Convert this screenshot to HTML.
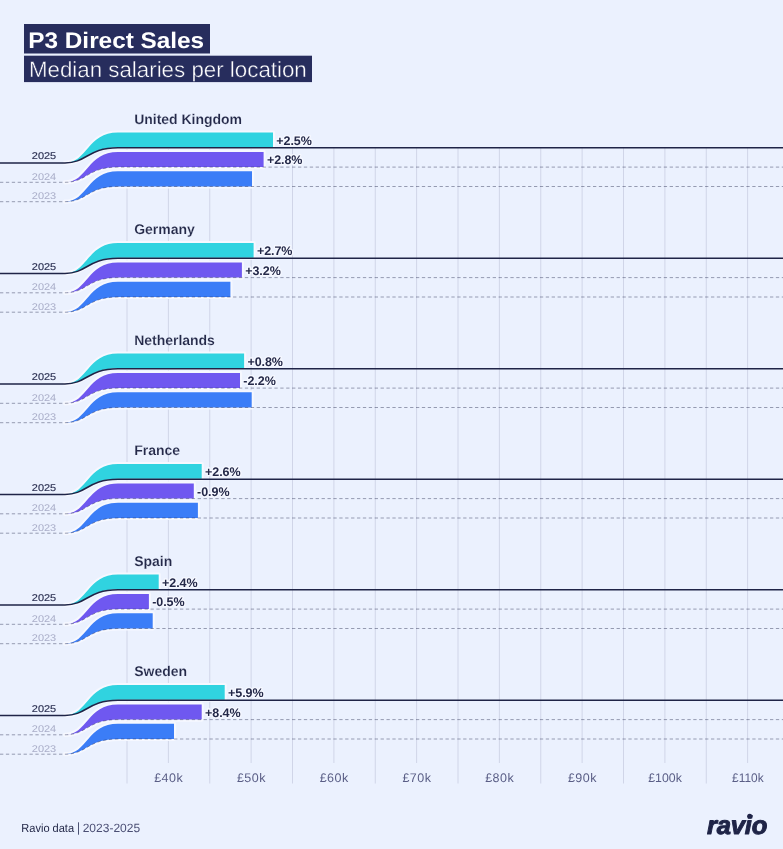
<!DOCTYPE html>
<html><head><meta charset="utf-8"><title>P3 Direct Sales</title>
<style>
html,body{margin:0;padding:0;background:#ebf1fe;}
body{width:783px;height:849px;overflow:hidden;font-family:"Liberation Sans",sans-serif;}
svg{display:block;will-change:transform;}
</style></head><body>
<svg width="783" height="849" viewBox="0 0 783 849" font-family="Liberation Sans, sans-serif" text-rendering="geometricPrecision">
<rect width="783" height="849" fill="#ebf1fe"/>
<rect x="24" y="24" width="186" height="29.5" fill="#272d5d"/>
<rect x="24" y="55.7" width="288" height="26.4" fill="#272d5d"/>
<text x="28.3" y="47.5" font-size="22.5" font-weight="700" fill="#ffffff" textLength="175.8" lengthAdjust="spacingAndGlyphs">P3 Direct Sales</text>
<text x="28.9" y="76.7" font-size="22" fill="#ffffff" stroke="#272d5d" stroke-width="0.4" textLength="277.9" lengthAdjust="spacingAndGlyphs">Median salaries per location</text>
<line x1="127.00" y1="147.7" x2="127.00" y2="783.5" stroke="#d0d5e8" stroke-width="1"/>
<line x1="168.38" y1="147.7" x2="168.38" y2="763" stroke="#d0d5e8" stroke-width="1"/>
<line x1="209.75" y1="147.7" x2="209.75" y2="783.5" stroke="#d0d5e8" stroke-width="1"/>
<line x1="251.12" y1="147.7" x2="251.12" y2="763" stroke="#d0d5e8" stroke-width="1"/>
<line x1="292.50" y1="147.7" x2="292.50" y2="783.5" stroke="#d0d5e8" stroke-width="1"/>
<line x1="333.88" y1="147.7" x2="333.88" y2="763" stroke="#d0d5e8" stroke-width="1"/>
<line x1="375.25" y1="147.7" x2="375.25" y2="783.5" stroke="#d0d5e8" stroke-width="1"/>
<line x1="416.62" y1="147.7" x2="416.62" y2="763" stroke="#d0d5e8" stroke-width="1"/>
<line x1="458.00" y1="147.7" x2="458.00" y2="783.5" stroke="#d0d5e8" stroke-width="1"/>
<line x1="499.38" y1="147.7" x2="499.38" y2="763" stroke="#d0d5e8" stroke-width="1"/>
<line x1="540.75" y1="147.7" x2="540.75" y2="783.5" stroke="#d0d5e8" stroke-width="1"/>
<line x1="582.12" y1="147.7" x2="582.12" y2="763" stroke="#d0d5e8" stroke-width="1"/>
<line x1="623.50" y1="147.7" x2="623.50" y2="783.5" stroke="#d0d5e8" stroke-width="1"/>
<line x1="664.88" y1="147.7" x2="664.88" y2="763" stroke="#d0d5e8" stroke-width="1"/>
<line x1="706.25" y1="147.7" x2="706.25" y2="783.5" stroke="#d0d5e8" stroke-width="1"/>
<line x1="747.62" y1="147.7" x2="747.62" y2="763" stroke="#d0d5e8" stroke-width="1"/>
<text x="168.68" y="782.3" font-size="12.5" fill="#5a5e86" text-anchor="middle" letter-spacing="0.45">£40k</text>
<text x="251.43" y="782.3" font-size="12.5" fill="#5a5e86" text-anchor="middle" letter-spacing="0.45">£50k</text>
<text x="334.18" y="782.3" font-size="12.5" fill="#5a5e86" text-anchor="middle" letter-spacing="0.45">£60k</text>
<text x="416.93" y="782.3" font-size="12.5" fill="#5a5e86" text-anchor="middle" letter-spacing="0.45">£70k</text>
<text x="499.68" y="782.3" font-size="12.5" fill="#5a5e86" text-anchor="middle" letter-spacing="0.45">£80k</text>
<text x="582.42" y="782.3" font-size="12.5" fill="#5a5e86" text-anchor="middle" letter-spacing="0.45">£90k</text>
<text x="648.28" y="782.3" font-size="12.5" fill="#5a5e86" textLength="33.6" lengthAdjust="spacingAndGlyphs">£100k</text>
<text x="732.08" y="782.3" font-size="12.5" fill="#5a5e86" textLength="31.5" lengthAdjust="spacingAndGlyphs">£110k</text>
<text x="134.2" y="123.90" font-size="14" font-weight="700" fill="#242949" stroke="#ebf1fe" stroke-width="0.15" letter-spacing="-0.02">United Kingdom</text>
<path d="M65.0,162.90 C87.26,162.90 87.26,132.50 118.00,132.50 L273.00,132.50 L273.00,147.20 L118.0,147.20 C87.26,147.20 87.26,162.90 65.00,162.90 Z" fill="#30d3e0" stroke="#f6f8ff" stroke-width="4.2" stroke-linejoin="round" paint-order="stroke"/>
<path d="M65.0,182.30 C87.26,182.30 87.26,151.90 118.00,151.90 L263.60,151.90 L263.60,167.10 L118.0,167.10 C87.26,167.10 87.26,182.30 65.00,182.30 Z" fill="#6f58f0" stroke="#f6f8ff" stroke-width="4.2" stroke-linejoin="round" paint-order="stroke"/>
<path d="M65.0,201.70 C87.26,201.70 87.26,171.30 118.00,171.30 L252.00,171.30 L252.00,186.50 L118.0,186.50 C87.26,186.50 87.26,201.70 65.00,201.70 Z" fill="#3b7df7" stroke="#f6f8ff" stroke-width="4.2" stroke-linejoin="round" paint-order="stroke"/>
<path d="M0,162.90 L65.0,162.90 C87.26,162.90 87.26,147.70 118.00,147.70 L783,147.70" fill="none" stroke="#1f2447" stroke-width="1.55"/>
<text x="31.8" y="159.00" font-size="9.8" textLength="24.4" lengthAdjust="spacingAndGlyphs" fill="#1f2447" stroke="#1f2447" stroke-width="0.12">2025</text>
<text x="276.30" y="144.70" font-size="12.5" font-weight="700" fill="#242949" letter-spacing="-0.05" stroke="#f6f8ff" stroke-width="2.6" stroke-linejoin="round" paint-order="stroke">+2.5%</text>
<path d="M0,182.30 L65.0,182.30 C87.26,182.30 87.26,167.10 118.00,167.10 L783,167.10" fill="none" stroke="#1f2447" stroke-opacity="0.47" stroke-width="0.9" stroke-dasharray="3.3 2.6"/>
<text x="31.8" y="179.60" font-size="9.8" textLength="24.4" lengthAdjust="spacingAndGlyphs" fill="#a9adc8">2024</text>
<text x="266.90" y="164.10" font-size="12.5" font-weight="700" fill="#242949" letter-spacing="-0.05" stroke="#f6f8ff" stroke-width="2.6" stroke-linejoin="round" paint-order="stroke">+2.8%</text>
<path d="M0,201.70 L65.0,201.70 C87.26,201.70 87.26,186.50 118.00,186.50 L783,186.50" fill="none" stroke="#1f2447" stroke-opacity="0.47" stroke-width="0.9" stroke-dasharray="3.3 2.6"/>
<text x="31.8" y="199.00" font-size="9.8" textLength="24.4" lengthAdjust="spacingAndGlyphs" fill="#a9adc8">2023</text>
<text x="134.2" y="234.40" font-size="14" font-weight="700" fill="#242949" stroke="#ebf1fe" stroke-width="0.15" letter-spacing="-0.02">Germany</text>
<path d="M65.0,273.40 C87.26,273.40 87.26,243.00 118.00,243.00 L253.60,243.00 L253.60,257.70 L118.0,257.70 C87.26,257.70 87.26,273.40 65.00,273.40 Z" fill="#30d3e0" stroke="#f6f8ff" stroke-width="4.2" stroke-linejoin="round" paint-order="stroke"/>
<path d="M65.0,292.80 C87.26,292.80 87.26,262.40 118.00,262.40 L241.90,262.40 L241.90,277.60 L118.0,277.60 C87.26,277.60 87.26,292.80 65.00,292.80 Z" fill="#6f58f0" stroke="#f6f8ff" stroke-width="4.2" stroke-linejoin="round" paint-order="stroke"/>
<path d="M65.0,312.20 C87.26,312.20 87.26,281.80 118.00,281.80 L230.40,281.80 L230.40,297.00 L118.0,297.00 C87.26,297.00 87.26,312.20 65.00,312.20 Z" fill="#3b7df7" stroke="#f6f8ff" stroke-width="4.2" stroke-linejoin="round" paint-order="stroke"/>
<path d="M0,273.40 L65.0,273.40 C87.26,273.40 87.26,258.20 118.00,258.20 L783,258.20" fill="none" stroke="#1f2447" stroke-width="1.55"/>
<text x="31.8" y="269.50" font-size="9.8" textLength="24.4" lengthAdjust="spacingAndGlyphs" fill="#1f2447" stroke="#1f2447" stroke-width="0.12">2025</text>
<text x="256.90" y="255.20" font-size="12.5" font-weight="700" fill="#242949" letter-spacing="-0.05" stroke="#f6f8ff" stroke-width="2.6" stroke-linejoin="round" paint-order="stroke">+2.7%</text>
<path d="M0,292.80 L65.0,292.80 C87.26,292.80 87.26,277.60 118.00,277.60 L783,277.60" fill="none" stroke="#1f2447" stroke-opacity="0.47" stroke-width="0.9" stroke-dasharray="3.3 2.6"/>
<text x="31.8" y="290.10" font-size="9.8" textLength="24.4" lengthAdjust="spacingAndGlyphs" fill="#a9adc8">2024</text>
<text x="245.20" y="274.60" font-size="12.5" font-weight="700" fill="#242949" letter-spacing="-0.05" stroke="#f6f8ff" stroke-width="2.6" stroke-linejoin="round" paint-order="stroke">+3.2%</text>
<path d="M0,312.20 L65.0,312.20 C87.26,312.20 87.26,297.00 118.00,297.00 L783,297.00" fill="none" stroke="#1f2447" stroke-opacity="0.47" stroke-width="0.9" stroke-dasharray="3.3 2.6"/>
<text x="31.8" y="309.50" font-size="9.8" textLength="24.4" lengthAdjust="spacingAndGlyphs" fill="#a9adc8">2023</text>
<text x="134.2" y="344.90" font-size="14" font-weight="700" fill="#242949" stroke="#ebf1fe" stroke-width="0.15" letter-spacing="-0.02">Netherlands</text>
<path d="M65.0,383.90 C87.26,383.90 87.26,353.50 118.00,353.50 L244.10,353.50 L244.10,368.20 L118.0,368.20 C87.26,368.20 87.26,383.90 65.00,383.90 Z" fill="#30d3e0" stroke="#f6f8ff" stroke-width="4.2" stroke-linejoin="round" paint-order="stroke"/>
<path d="M65.0,403.30 C87.26,403.30 87.26,372.90 118.00,372.90 L240.00,372.90 L240.00,388.10 L118.0,388.10 C87.26,388.10 87.26,403.30 65.00,403.30 Z" fill="#6f58f0" stroke="#f6f8ff" stroke-width="4.2" stroke-linejoin="round" paint-order="stroke"/>
<path d="M65.0,422.70 C87.26,422.70 87.26,392.30 118.00,392.30 L251.70,392.30 L251.70,407.50 L118.0,407.50 C87.26,407.50 87.26,422.70 65.00,422.70 Z" fill="#3b7df7" stroke="#f6f8ff" stroke-width="4.2" stroke-linejoin="round" paint-order="stroke"/>
<path d="M0,383.90 L65.0,383.90 C87.26,383.90 87.26,368.70 118.00,368.70 L783,368.70" fill="none" stroke="#1f2447" stroke-width="1.55"/>
<text x="31.8" y="380.00" font-size="9.8" textLength="24.4" lengthAdjust="spacingAndGlyphs" fill="#1f2447" stroke="#1f2447" stroke-width="0.12">2025</text>
<text x="247.40" y="365.70" font-size="12.5" font-weight="700" fill="#242949" letter-spacing="-0.05" stroke="#f6f8ff" stroke-width="2.6" stroke-linejoin="round" paint-order="stroke">+0.8%</text>
<path d="M0,403.30 L65.0,403.30 C87.26,403.30 87.26,388.10 118.00,388.10 L783,388.10" fill="none" stroke="#1f2447" stroke-opacity="0.47" stroke-width="0.9" stroke-dasharray="3.3 2.6"/>
<text x="31.8" y="400.60" font-size="9.8" textLength="24.4" lengthAdjust="spacingAndGlyphs" fill="#a9adc8">2024</text>
<text x="243.30" y="385.10" font-size="12.5" font-weight="700" fill="#242949" letter-spacing="-0.05" stroke="#f6f8ff" stroke-width="2.6" stroke-linejoin="round" paint-order="stroke">-2.2%</text>
<path d="M0,422.70 L65.0,422.70 C87.26,422.70 87.26,407.50 118.00,407.50 L783,407.50" fill="none" stroke="#1f2447" stroke-opacity="0.47" stroke-width="0.9" stroke-dasharray="3.3 2.6"/>
<text x="31.8" y="420.00" font-size="9.8" textLength="24.4" lengthAdjust="spacingAndGlyphs" fill="#a9adc8">2023</text>
<text x="134.2" y="455.40" font-size="14" font-weight="700" fill="#242949" stroke="#ebf1fe" stroke-width="0.15" letter-spacing="-0.02">France</text>
<path d="M65.0,494.40 C87.26,494.40 87.26,464.00 118.00,464.00 L201.70,464.00 L201.70,478.70 L118.0,478.70 C87.26,478.70 87.26,494.40 65.00,494.40 Z" fill="#30d3e0" stroke="#f6f8ff" stroke-width="4.2" stroke-linejoin="round" paint-order="stroke"/>
<path d="M65.0,513.80 C87.26,513.80 87.26,483.40 118.00,483.40 L193.80,483.40 L193.80,498.60 L118.0,498.60 C87.26,498.60 87.26,513.80 65.00,513.80 Z" fill="#6f58f0" stroke="#f6f8ff" stroke-width="4.2" stroke-linejoin="round" paint-order="stroke"/>
<path d="M65.0,533.20 C87.26,533.20 87.26,502.80 118.00,502.80 L197.90,502.80 L197.90,518.00 L118.0,518.00 C87.26,518.00 87.26,533.20 65.00,533.20 Z" fill="#3b7df7" stroke="#f6f8ff" stroke-width="4.2" stroke-linejoin="round" paint-order="stroke"/>
<path d="M0,494.40 L65.0,494.40 C87.26,494.40 87.26,479.20 118.00,479.20 L783,479.20" fill="none" stroke="#1f2447" stroke-width="1.55"/>
<text x="31.8" y="490.50" font-size="9.8" textLength="24.4" lengthAdjust="spacingAndGlyphs" fill="#1f2447" stroke="#1f2447" stroke-width="0.12">2025</text>
<text x="205.00" y="476.20" font-size="12.5" font-weight="700" fill="#242949" letter-spacing="-0.05" stroke="#f6f8ff" stroke-width="2.6" stroke-linejoin="round" paint-order="stroke">+2.6%</text>
<path d="M0,513.80 L65.0,513.80 C87.26,513.80 87.26,498.60 118.00,498.60 L783,498.60" fill="none" stroke="#1f2447" stroke-opacity="0.47" stroke-width="0.9" stroke-dasharray="3.3 2.6"/>
<text x="31.8" y="511.10" font-size="9.8" textLength="24.4" lengthAdjust="spacingAndGlyphs" fill="#a9adc8">2024</text>
<text x="197.10" y="495.60" font-size="12.5" font-weight="700" fill="#242949" letter-spacing="-0.05" stroke="#f6f8ff" stroke-width="2.6" stroke-linejoin="round" paint-order="stroke">-0.9%</text>
<path d="M0,533.20 L65.0,533.20 C87.26,533.20 87.26,518.00 118.00,518.00 L783,518.00" fill="none" stroke="#1f2447" stroke-opacity="0.47" stroke-width="0.9" stroke-dasharray="3.3 2.6"/>
<text x="31.8" y="530.50" font-size="9.8" textLength="24.4" lengthAdjust="spacingAndGlyphs" fill="#a9adc8">2023</text>
<text x="134.2" y="565.90" font-size="14" font-weight="700" fill="#242949" stroke="#ebf1fe" stroke-width="0.15" letter-spacing="-0.02">Spain</text>
<path d="M65.0,604.90 C87.26,604.90 87.26,574.50 118.00,574.50 L158.70,574.50 L158.70,589.20 L118.0,589.20 C87.26,589.20 87.26,604.90 65.00,604.90 Z" fill="#30d3e0" stroke="#f6f8ff" stroke-width="4.2" stroke-linejoin="round" paint-order="stroke"/>
<path d="M65.0,624.30 C87.26,624.30 87.26,593.90 118.00,593.90 L148.90,593.90 L148.90,609.10 L118.0,609.10 C87.26,609.10 87.26,624.30 65.00,624.30 Z" fill="#6f58f0" stroke="#f6f8ff" stroke-width="4.2" stroke-linejoin="round" paint-order="stroke"/>
<path d="M65.0,643.70 C87.26,643.70 87.26,613.30 118.00,613.30 L152.70,613.30 L152.70,628.50 L118.0,628.50 C87.26,628.50 87.26,643.70 65.00,643.70 Z" fill="#3b7df7" stroke="#f6f8ff" stroke-width="4.2" stroke-linejoin="round" paint-order="stroke"/>
<path d="M0,604.90 L65.0,604.90 C87.26,604.90 87.26,589.70 118.00,589.70 L783,589.70" fill="none" stroke="#1f2447" stroke-width="1.55"/>
<text x="31.8" y="601.00" font-size="9.8" textLength="24.4" lengthAdjust="spacingAndGlyphs" fill="#1f2447" stroke="#1f2447" stroke-width="0.12">2025</text>
<text x="162.00" y="586.70" font-size="12.5" font-weight="700" fill="#242949" letter-spacing="-0.05" stroke="#f6f8ff" stroke-width="2.6" stroke-linejoin="round" paint-order="stroke">+2.4%</text>
<path d="M0,624.30 L65.0,624.30 C87.26,624.30 87.26,609.10 118.00,609.10 L783,609.10" fill="none" stroke="#1f2447" stroke-opacity="0.47" stroke-width="0.9" stroke-dasharray="3.3 2.6"/>
<text x="31.8" y="621.60" font-size="9.8" textLength="24.4" lengthAdjust="spacingAndGlyphs" fill="#a9adc8">2024</text>
<text x="152.20" y="606.10" font-size="12.5" font-weight="700" fill="#242949" letter-spacing="-0.05" stroke="#f6f8ff" stroke-width="2.6" stroke-linejoin="round" paint-order="stroke">-0.5%</text>
<path d="M0,643.70 L65.0,643.70 C87.26,643.70 87.26,628.50 118.00,628.50 L783,628.50" fill="none" stroke="#1f2447" stroke-opacity="0.47" stroke-width="0.9" stroke-dasharray="3.3 2.6"/>
<text x="31.8" y="641.00" font-size="9.8" textLength="24.4" lengthAdjust="spacingAndGlyphs" fill="#a9adc8">2023</text>
<text x="134.2" y="676.40" font-size="14" font-weight="700" fill="#242949" stroke="#ebf1fe" stroke-width="0.15" letter-spacing="-0.02">Sweden</text>
<path d="M65.0,715.40 C87.26,715.40 87.26,685.00 118.00,685.00 L224.70,685.00 L224.70,699.70 L118.0,699.70 C87.26,699.70 87.26,715.40 65.00,715.40 Z" fill="#30d3e0" stroke="#f6f8ff" stroke-width="4.2" stroke-linejoin="round" paint-order="stroke"/>
<path d="M65.0,734.80 C87.26,734.80 87.26,704.40 118.00,704.40 L201.70,704.40 L201.70,719.60 L118.0,719.60 C87.26,719.60 87.26,734.80 65.00,734.80 Z" fill="#6f58f0" stroke="#f6f8ff" stroke-width="4.2" stroke-linejoin="round" paint-order="stroke"/>
<path d="M65.0,754.20 C87.26,754.20 87.26,723.80 118.00,723.80 L174.00,723.80 L174.00,739.00 L118.0,739.00 C87.26,739.00 87.26,754.20 65.00,754.20 Z" fill="#3b7df7" stroke="#f6f8ff" stroke-width="4.2" stroke-linejoin="round" paint-order="stroke"/>
<path d="M0,715.40 L65.0,715.40 C87.26,715.40 87.26,700.20 118.00,700.20 L783,700.20" fill="none" stroke="#1f2447" stroke-width="1.55"/>
<text x="31.8" y="711.50" font-size="9.8" textLength="24.4" lengthAdjust="spacingAndGlyphs" fill="#1f2447" stroke="#1f2447" stroke-width="0.12">2025</text>
<text x="228.00" y="697.20" font-size="12.5" font-weight="700" fill="#242949" letter-spacing="-0.05" stroke="#f6f8ff" stroke-width="2.6" stroke-linejoin="round" paint-order="stroke">+5.9%</text>
<path d="M0,734.80 L65.0,734.80 C87.26,734.80 87.26,719.60 118.00,719.60 L783,719.60" fill="none" stroke="#1f2447" stroke-opacity="0.47" stroke-width="0.9" stroke-dasharray="3.3 2.6"/>
<text x="31.8" y="732.10" font-size="9.8" textLength="24.4" lengthAdjust="spacingAndGlyphs" fill="#a9adc8">2024</text>
<text x="205.00" y="716.60" font-size="12.5" font-weight="700" fill="#242949" letter-spacing="-0.05" stroke="#f6f8ff" stroke-width="2.6" stroke-linejoin="round" paint-order="stroke">+8.4%</text>
<path d="M0,754.20 L65.0,754.20 C87.26,754.20 87.26,739.00 118.00,739.00 L783,739.00" fill="none" stroke="#1f2447" stroke-opacity="0.47" stroke-width="0.9" stroke-dasharray="3.3 2.6"/>
<text x="31.8" y="751.50" font-size="9.8" textLength="24.4" lengthAdjust="spacingAndGlyphs" fill="#a9adc8">2023</text>
<text x="21.3" y="832.2" font-size="11.7" fill="#242949" textLength="52.8" lengthAdjust="spacingAndGlyphs">Ravio data</text>
<line x1="78.5" y1="822.3" x2="78.5" y2="834.7" stroke="#3a3f63" stroke-width="0.9"/>
<text x="82.7" y="832.2" font-size="12" fill="#4b4f74">2023-2025</text>
<text x="707.0" y="834.2" font-size="25.6" font-weight="700" font-style="italic" fill="#1f2447" stroke="#1f2447" stroke-width="1.0" stroke-linejoin="round" letter-spacing="-0.2">ravio</text>
<circle cx="749.7" cy="816.2" r="2.55" fill="#1f2447"/>
</svg>
</body></html>
